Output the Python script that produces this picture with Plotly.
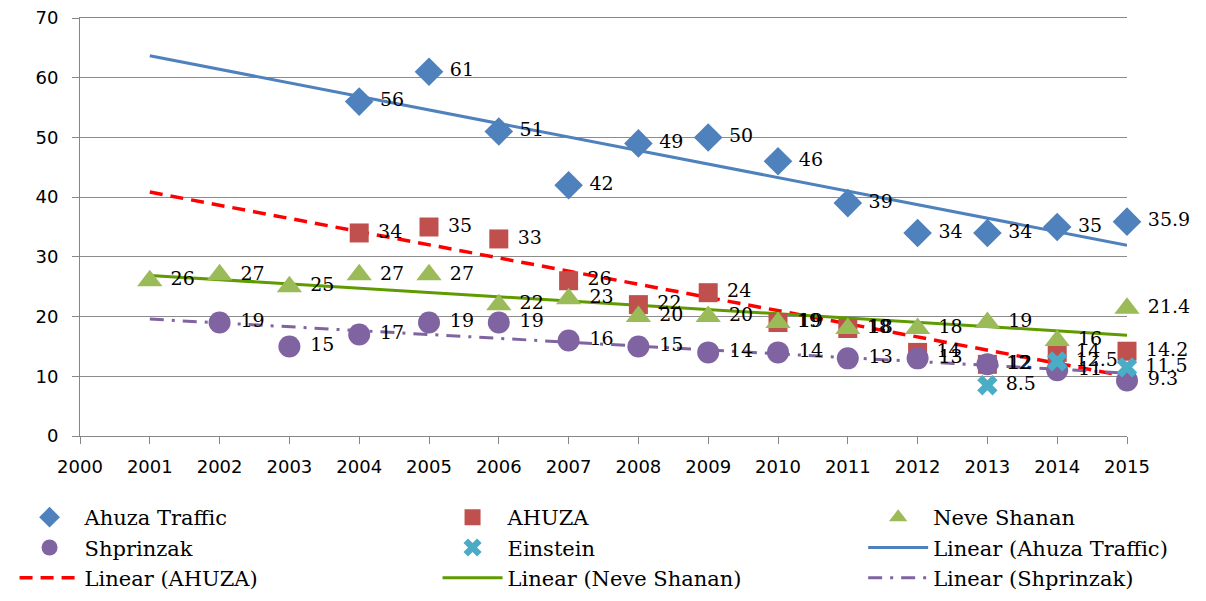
import numpy as np
import plotly.graph_objects as go

years_traffic = [2004, 2005, 2006, 2007, 2008, 2009, 2010, 2011, 2012, 2013, 2014, 2015]
ahuza_traffic = [56, 61, 51, 42, 49, 50, 46, 39, 34, 34, 35, 35.9]

years_ahuza = [2004, 2005, 2006, 2007, 2008, 2009, 2010, 2011, 2012, 2013, 2014, 2015]
ahuza = [34, 35, 33, 26, 22, 24, 19, 18, 14, 12, 14, 14.2]

years_neve = list(range(2001, 2016))
neve_shanan = [26, 27, 25, 27, 27, 22, 23, 20, 20, 19, 18, 18, 19, 16, 21.4]

years_shprinzak = list(range(2002, 2016))
shprinzak = [19, 15, 17, 19, 19, 16, 15, 14, 14, 13, 13, 12, 11, 9.3]

years_einstein = [2013, 2014, 2015]
einstein = [8.5, 12.5, 11.5]

trend_x = [2001, 2015]

SERIF = "DejaVu Serif, Liberation Serif, serif"
LABEL_FONT = dict(family=SERIF, size=19, color="black")

fig = go.Figure()

def fmt(v):
    return "\u00a0" + ("%g" % v)

def scatter(xs, ys, name, color, symbol, size, legend):
    fig.add_trace(go.Scatter(
        x=xs, y=ys, name=name, mode="markers+text",
        marker=dict(color=color, symbol=symbol, size=size, line=dict(width=0)),
        text=[fmt(v) for v in ys], textposition="middle right",
        textfont=LABEL_FONT, cliponaxis=False,
        legend=legend, legendgroup=name,
    ))

def trend(xs, ys, name, color, dash, legend, width=3):
    k, b = np.polyfit(xs, ys, 1)
    tx = np.array(trend_x, dtype=float)
    fig.add_trace(go.Scatter(
        x=tx, y=k * tx + b, name=name, mode="lines",
        line=dict(color=color, dash=dash, width=width), hoverinfo="skip",
        legend=legend, legendgroup=name,
    ))

# trendlines first so markers draw over them
trend(years_traffic, ahuza_traffic, "Linear (Ahuza Traffic)", "#4F81BD", "solid", "legend3")
trend(years_ahuza, ahuza, "Linear (AHUZA)", "#FF0000", "13px,8px", "legend", width=3.5)
trend(years_neve, neve_shanan, "Linear (Neve Shanan)", "#5F9A00", "solid", "legend2")
trend(years_shprinzak, shprinzak, "Linear (Shprinzak)", "#8064A2", "14px,8px,3px,8px", "legend3")

scatter(years_traffic, ahuza_traffic, "Ahuza Traffic", "#4F81BD", "diamond", 22, "legend")
scatter(years_ahuza, ahuza, "AHUZA", "#C0504D", "square", 19, "legend2")
scatter(years_neve, neve_shanan, "Neve Shanan", "#9BBB59", "triangle-up", 22, "legend3")
scatter(years_shprinzak, shprinzak, "Shprinzak", "#8064A2", "circle", 22, "legend")
scatter(years_einstein, einstein, "Einstein", "#4BACC6", "x", 18, "legend2")

order = ["Ahuza Traffic", "AHUZA", "Neve Shanan", "Shprinzak", "Einstein",
         "Linear (Ahuza Traffic)", "Linear (AHUZA)", "Linear (Neve Shanan)", "Linear (Shprinzak)"]
for tr in fig.data:
    tr.legendrank = order.index(tr.name) + 1

TICK_FONT = dict(family="DejaVu Sans, Liberation Sans, sans-serif", size=18, color="black")

def legend_at(x):
    return dict(
        orientation="v", x=x, xanchor="left", y=-0.146, yanchor="top",
        font=dict(family=SERIF, size=21, color="black"),
        bgcolor="rgba(0,0,0,0)", itemwidth=60, traceorder="normal",
        tracegroupgap=1,
    )

fig.update_layout(
    width=1206, height=601,
    margin=dict(l=72, r=87, t=10, b=173, autoexpand=False),
    paper_bgcolor="white", plot_bgcolor="white",
    showlegend=True,
    legend=legend_at(-0.0625),
    legend2=legend_at(0.3415),
    legend3=legend_at(0.748),
    xaxis=dict(
        range=[2000, 2015], dtick=1, tick0=2000, showgrid=False,
        showline=True, linecolor="#868686", linewidth=1, mirror=True,
        ticks="outside", ticklen=7, tickcolor="#868686",
        tickfont=TICK_FONT, zeroline=False, ticklabelstandoff=7,
        ticklabeloverflow="allow",
    ),
    yaxis=dict(
        range=[0, 70], dtick=10, showgrid=True, gridcolor="#8C8C8C", gridwidth=1,
        showline=True, linecolor="#868686", linewidth=1,
        ticks="outside", ticklen=7, tickcolor="#868686",
        tickfont=TICK_FONT, zeroline=False, ticklabelstandoff=10,
        ticklabeloverflow="allow",
    ),
)

fig.write_html("out.html")
